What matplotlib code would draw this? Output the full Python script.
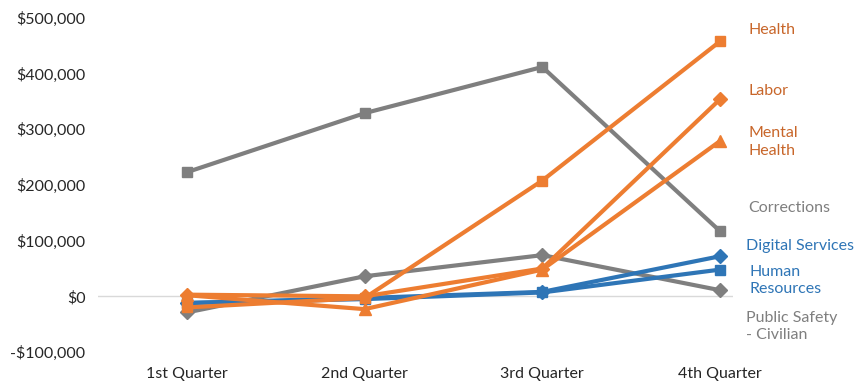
import matplotlib
matplotlib.use("Agg")
import matplotlib.pyplot as plt
from matplotlib.ticker import FuncFormatter

plt.rcParams['font.family'] = ['Lato', 'DejaVu Sans']

quarters = ["1st Quarter", "2nd Quarter", "3rd Quarter", "4th Quarter"]

health = [-20000, -3000, 208000, 458000]
labor = [3000, 0, 50000, 354000]
mental_health = [2000, -23000, 48000, 279000]
corrections = [223000, 329000, 412000, 117000]
public_safety = [-29000, 36000, 74000, 11000]
digital_services = [-12000, -3000, 8000, 72000]
human_resources = [-12000, -5000, 7000, 48000]

label_y = [478000, 368000, 277000, 158000, 90000, 28000, -54000]

orange = "#ED7D31"
orange_txt = "#C8662A"
gray = "#7F7F7F"
blue = "#2E75B6"

fig = plt.figure(figsize=(8.58, 3.85), dpi=100)
ax = fig.add_axes([98/858, 33/385, (733-98)/858, (367-33)/385])

x = range(len(quarters))
ax.axhline(0, color="#D9D9D9", lw=1, zorder=0)

series = [
    ("Corrections", corrections, gray, "s", gray),
    ("Public Safety\n- Civilian", public_safety, gray, "D", gray),
    ("Human\nResources", human_resources, blue, "s", blue),
    ("Digital Services", digital_services, blue, "D", blue),
    ("Mental\nHealth", mental_health, orange, "^", orange_txt),
    ("Labor", labor, orange, "D", orange_txt),
    ("Health", health, orange, "s", orange_txt),
]
for name, vals, col, mk, tc in series:
    ms = 8 if mk == "^" else 7
    ax.plot(x, vals, color=col, lw=3, marker=mk, ms=ms)

labels = [("Health", orange_txt, 3.16), ("Labor", orange_txt, 3.16),
          ("Mental\nHealth", orange_txt, 3.16), ("Corrections", gray, 3.16),
          ("Digital Services", blue, 3.145), ("Human\nResources", blue, 3.165),
          ("Public Safety\n- Civilian", gray, 3.145)]
for (txt, c, lx), ly in zip(labels, label_y):
    ax.text(lx, ly, txt, color=c, fontsize=11.5, va="center", ha="left",
            clip_on=False, linespacing=1.3)

ax.set_xlim(-0.5, 3.073)
ax.set_ylim(-100000, 500000)
ax.set_xticks(list(x))
ax.set_xticklabels(quarters)
ax.set_yticks(range(-100000, 500001, 100000))
ax.yaxis.set_major_formatter(FuncFormatter(
    lambda v, p: ("-$" if v < 0 else "$") + format(abs(int(v)), ",")))
ax.tick_params(length=0, labelsize=11.5, labelcolor="#262626")
ax.tick_params(axis="y", pad=9)
ax.tick_params(axis="x", pad=11)
for s in ax.spines.values():
    s.set_visible(False)

fig.savefig("out.png", dpi=100)
